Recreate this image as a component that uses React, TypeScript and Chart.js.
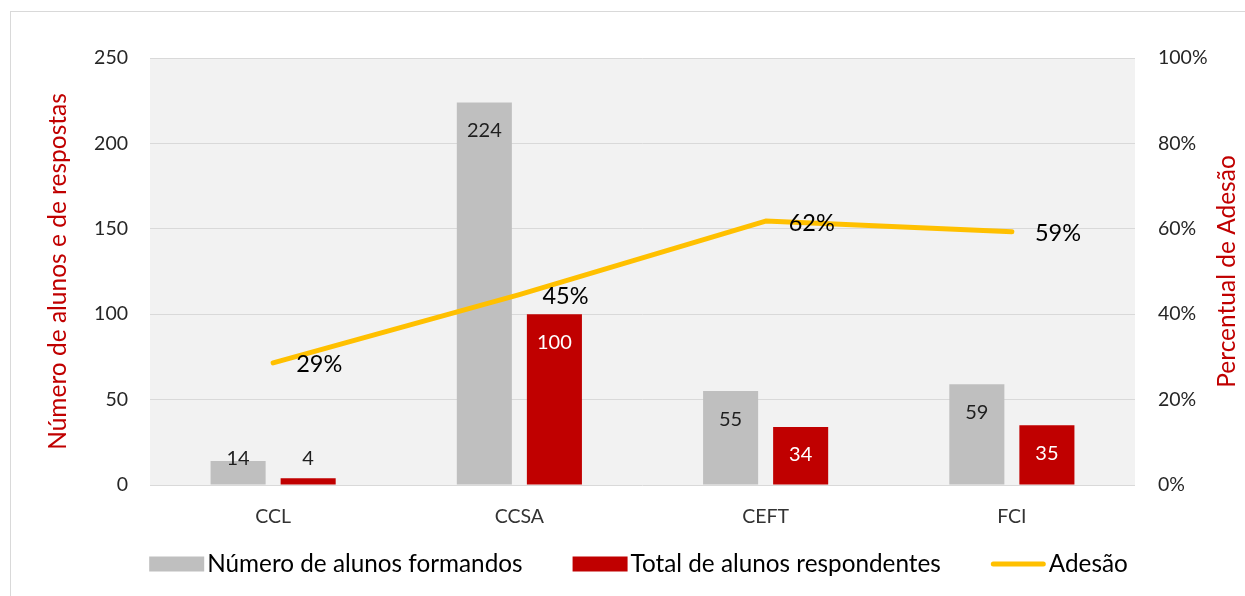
import React, { useEffect, useRef } from "react";
import { Chart, registerables } from "chart.js";

Chart.register(...registerables);

const categories = ["CCL", "CCSA", "CEFT", "FCI"];
const formandos = [14, 224, 55, 59];
const respondentes = [4, 100, 34, 35];
const adesao = [28.6, 44.6, 61.8, 59.3];
const leftTicks = [0, 50, 100, 150, 200, 250];
const rightTicks = [0, 20, 40, 60, 80, 100];
const rightTickLabels = ["0%", "20%", "40%", "60%", "80%", "100%"];
const seriesLabels = ["Número de alunos formandos", "Total de alunos respondentes", "Adesão"];
const axisTitles = ["Número de alunos e de respostas", "Percentual de Adesão"];

const FONT = "Lato, 'Open Sans', sans-serif";
const GRAY = "#bfbfbf";
const RED = "#c00000";
const YELLOW = "#ffc000";
const seriesColors = [GRAY, RED, YELLOW];

const bgPlugin = {
  id: "plotBg",
  beforeDraw(chart: any) {
    const { ctx, chartArea } = chart;
    ctx.save();
    ctx.fillStyle = "#f2f2f2";
    ctx.fillRect(chartArea.left, chartArea.top, chartArea.right - chartArea.left, chartArea.bottom - chartArea.top);
    ctx.restore();
  },
};

const labelPlugin = {
  id: "valueLabels",
  afterDatasetsDraw(chart: any) {
    const ctx = chart.ctx;
    ctx.save();
    ctx.font = `20px ${FONT}`;
    ctx.textAlign = "center";
    ctx.textBaseline = "middle";
    [0, 1].forEach((di) => {
      const meta = chart.getDatasetMeta(di);
      meta.data.forEach((el: any, i: number) => {
        const { x, y, base } = el.getProps(["x", "y", "base"], true);
        const ly = Math.min(y + 28, base - 26);
        const inside = ly - 10 > y;
        ctx.fillStyle = di === 1 && inside ? "#ffffff" : "#1f1f1f";
        ctx.fillText(String(chart.data.datasets[di].data[i]), x, ly);
      });
    });
    const lmeta = chart.getDatasetMeta(2);
    ctx.font = `23.5px ${FONT}`;
    ctx.textAlign = "left";
    ctx.fillStyle = "#000000";
    lmeta.data.forEach((el: any, i: number) => {
      ctx.fillText(Math.round(adesao[i]) + "%", el.x + 23, el.y + 2);
    });
    ctx.restore();
  },
  afterDraw(chart: any) {
    const { ctx, chartArea } = chart;
    const cy = (chartArea.top + chartArea.bottom) / 2;
    ctx.save();
    ctx.font = `24.5px ${FONT}`;
    ctx.fillStyle = RED;
    ctx.textAlign = "center";
    ctx.textBaseline = "middle";
    ctx.save();
    ctx.translate(58, cy);
    ctx.rotate(-Math.PI / 2);
    ctx.fillText(axisTitles[0], 0, 0);
    ctx.restore();
    ctx.save();
    ctx.translate(1227, cy);
    ctx.rotate(-Math.PI / 2);
    ctx.fillText(axisTitles[1], 0, 0);
    ctx.restore();

    // legend
    ctx.font = `24.3px ${FONT}`;
    ctx.textAlign = "left";
    const boxW = 55;
    const gapText = 3;
    const gapItem = 50;
    const widths = seriesLabels.map((t) => boxW + gapText + ctx.measureText(t).width);
    const total = widths.reduce((a, b) => a + b, 0) + gapItem * (widths.length - 1);
    let x = (chartArea.left + chartArea.right) / 2 - 4 - total / 2;
    const ly = 564;
    seriesLabels.forEach((t, i) => {
      if (i === 2) {
        ctx.strokeStyle = seriesColors[i];
        ctx.lineWidth = 5;
        ctx.lineCap = "round";
        ctx.beginPath();
        ctx.moveTo(x + 2.5, ly);
        ctx.lineTo(x + boxW - 2.5, ly);
        ctx.stroke();
      } else {
        ctx.fillStyle = seriesColors[i];
        ctx.fillRect(x, ly - 7.5, boxW, 15);
      }
      ctx.fillStyle = "#000000";
      ctx.fillText(t, x + boxW + gapText, ly);
      x += widths[i] + gapItem;
    });
    ctx.restore();
  },
};

export default function App() {
  const ref = useRef<HTMLCanvasElement>(null);
  useEffect(() => {
    if (!ref.current) return;
    const chart = new Chart(ref.current, {
      type: "bar",
      data: {
        labels: categories,
        datasets: [
          {
            type: "bar",
            label: seriesLabels[0],
            data: formandos,
            backgroundColor: GRAY,
            yAxisID: "y",
            order: 1,
            categoryPercentage: 0.569,
            barPercentage: 0.786,
          },
          {
            type: "bar",
            label: seriesLabels[1],
            data: respondentes,
            backgroundColor: RED,
            yAxisID: "y",
            order: 1,
            categoryPercentage: 0.569,
            barPercentage: 0.786,
          },
          {
            type: "line",
            label: seriesLabels[2],
            data: adesao,
            borderColor: YELLOW,
            backgroundColor: YELLOW,
            borderWidth: 5,
            borderCapStyle: "round",
            borderJoinStyle: "round",
            pointRadius: 0,
            tension: 0,
            yAxisID: "y1",
            order: 0,
          } as any,
        ],
      },
      options: {
        responsive: false,
        animation: false,
        devicePixelRatio: 1,
        layout: { padding: { left: 0, right: 0, top: 58, bottom: 0 } },
        plugins: {
          tooltip: { enabled: false },
          legend: { display: false },
        },
        scales: {
          x: {
            grid: { display: false, drawTicks: false },
            border: { display: false },
            ticks: { font: { family: FONT, size: 19.5 }, color: "#333333", padding: 20 },
            afterFit: (s: any) => {
              s.height = 111;
            },
          },
          y: {
            position: "left",
            min: 0,
            max: 250,
            grid: { color: "#d9d9d9", drawTicks: false },
            border: { display: false },
            ticks: { font: { family: FONT, size: 19.5 }, color: "#262626", padding: 22 },
            afterBuildTicks: (s: any) => {
              s.ticks = leftTicks.map((v) => ({ value: v }));
            },
            afterFit: (s: any) => {
              s.width = 150;
            },
          },
          y1: {
            position: "right",
            min: 0,
            max: 100,
            grid: { display: false, drawTicks: false },
            border: { display: false },
            ticks: {
              font: { family: FONT, size: 19.5 },
              color: "#262626",
              padding: 23,
              callback: (_v: any, i: number) => rightTickLabels[i],
            },
            afterBuildTicks: (s: any) => {
              s.ticks = rightTicks.map((v) => ({ value: v }));
            },
            afterFit: (s: any) => {
              s.width = 110;
            },
          },
        },
      },
      plugins: [bgPlugin, labelPlugin],
    });
    return () => chart.destroy();
  }, []);

  return (
    <div
      style={{
        position: "fixed",
        left: 0,
        top: 0,
        width: 1245,
        height: 596,
        overflow: "hidden",
        background: "#ffffff",
      }}
    >
      <div
        style={{
          position: "absolute",
          left: 10,
          top: 11,
          width: 1300,
          height: 700,
          border: "1px solid #d9d9d9",
          boxSizing: "border-box",
        }}
      />
      <canvas
        ref={ref}
        width={1245}
        height={596}
        style={{ position: "absolute", left: 0, top: 0, width: 1245, height: 596, display: "block" }}
      />
    </div>
  );
}
